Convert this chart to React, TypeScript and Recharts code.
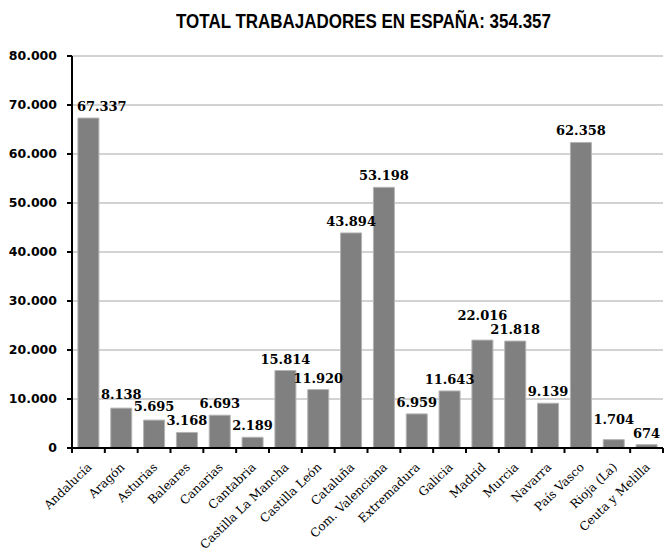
import React from 'react';
import { BarChart, Bar, XAxis, YAxis, CartesianGrid } from 'recharts';

const regiones = [
  'Andalucía', 'Aragón', 'Asturias', 'Baleares', 'Canarias', 'Cantabria',
  'Castilla La Mancha', 'Castilla León', 'Cataluña', 'Com. Valenciana',
  'Extremadura', 'Galicia', 'Madrid', 'Murcia', 'Navarra', 'País Vasco',
  'Rioja (La)', 'Ceuta y Melilla',
];
const trabajadores = [
  67337, 8138, 5695, 3168, 6693, 2189, 15814, 11920, 43894, 53198,
  6959, 11643, 22016, 21818, 9139, 62358, 1704, 674,
];
const yTicks = [0, 10000, 20000, 30000, 40000, 50000, 60000, 70000, 80000];

const data = regiones.map((region, i) => ({ region, value: trabajadores[i] }));

// formato español: separador de miles con punto
const fmt = (v: number) => String(v).replace(/\B(?=(\d{3})+(?!\d))/g, '.');

const GAP = 7;
const LINE = 14;

// etiqueta encima de la barra; si choca con la vecina, la más alta sube
const ValueLabel = (props: any) => {
  const { x, y, width, height, value } = props;
  const v = Number(value);
  const i = props.index ?? trabajadores.indexOf(v);
  const base = y + height;
  const k = v ? height / v : 0;
  const top = (val: number) => base - val * k - GAP;
  let ty = top(v);
  [i - 1, i + 1].forEach((j) => {
    if (j < 0 || j >= trabajadores.length) return;
    const other = top(trabajadores[j]);
    if (Math.abs(other - ty) < LINE && trabajadores[j] < v) ty = Math.min(ty, other - LINE);
  });
  // la primera no puede pisar el eje vertical
  const first = i === 0;
  return (
    <text
      x={first ? x - 1 : x + width / 2}
      y={ty}
      textAnchor={first ? 'start' : 'middle'}
      fontFamily="'DejaVu Serif', serif"
      fontWeight="bold"
      fontSize={13}
      fill="#000"
    >
      {fmt(v)}
    </text>
  );
};

const CategoryTick = (props: any) => {
  const { x, y, payload, index, width, visibleTicksCount } = props;
  const n = visibleTicksCount || regiones.length;
  const bw = (width || 591) / n;
  const left = x - bw / 2;
  const tx = x + 4;
  const ty = y + 20;
  return (
    <g>
      <line x1={left} y1={y} x2={left} y2={y + 5} stroke="#000" strokeWidth={2} />
      {index === n - 1 && <line x1={x + bw / 2} y1={y} x2={x + bw / 2} y2={y + 5} stroke="#000" strokeWidth={2} />}
      <text
        x={tx}
        y={ty}
        transform={`rotate(-44, ${tx}, ${ty})`}
        textAnchor="end"
        fontFamily="'DejaVu Serif', serif"
        fontSize={12}
        fill="#000"
      >
        {payload.value}
      </text>
    </g>
  );
};

const App: React.FC = () => {
  return (
    <div style={{ position: 'absolute', left: 0, top: 0, width: 664, height: 555, background: '#fff' }}>
      <div
        style={{
          position: 'absolute',
          left: 68,
          top: 10,
          width: 591,
          textAlign: 'center',
          fontFamily: "'Liberation Sans', sans-serif",
          fontWeight: 'bold',
          fontSize: 19.5,
          color: '#000',
          transform: 'scaleX(0.87)',
          whiteSpace: 'nowrap',
        }}
      >
        TOTAL TRABAJADORES EN ESPAÑA: 354.357
      </div>
      <BarChart
        width={664}
        height={555}
        data={data}
        margin={{ top: 56, right: 1, bottom: 0, left: 0 }}
        barCategoryGap="18%"
      >
        <CartesianGrid vertical={false} stroke="#a6a6a6" strokeWidth={1} />
        <XAxis
          dataKey="region"
          interval={0}
          height={107}
          tickLine={false}
          tickSize={0}
          tickMargin={0}
          axisLine={{ stroke: '#000', strokeWidth: 2 }}
          tick={<CategoryTick />}
        />
        <YAxis
          width={72}
          domain={[0, 80000]}
          ticks={yTicks}
          interval={0}
          tickFormatter={fmt}
          tickSize={5}
          tickMargin={10}
          axisLine={{ stroke: '#000', strokeWidth: 2 }}
          tickLine={{ stroke: '#000', strokeWidth: 2 }}
          tick={{ fill: '#000', fontFamily: "'DejaVu Sans', sans-serif", fontWeight: 'bold', fontSize: 12.5 }}
        />
        <Bar
          dataKey="value"
          fill="#808080"
          stroke="#b4b4b4"
          strokeWidth={1}
          isAnimationActive={false}
          label={<ValueLabel />}
        />
      </BarChart>
    </div>
  );
};

export default App;
